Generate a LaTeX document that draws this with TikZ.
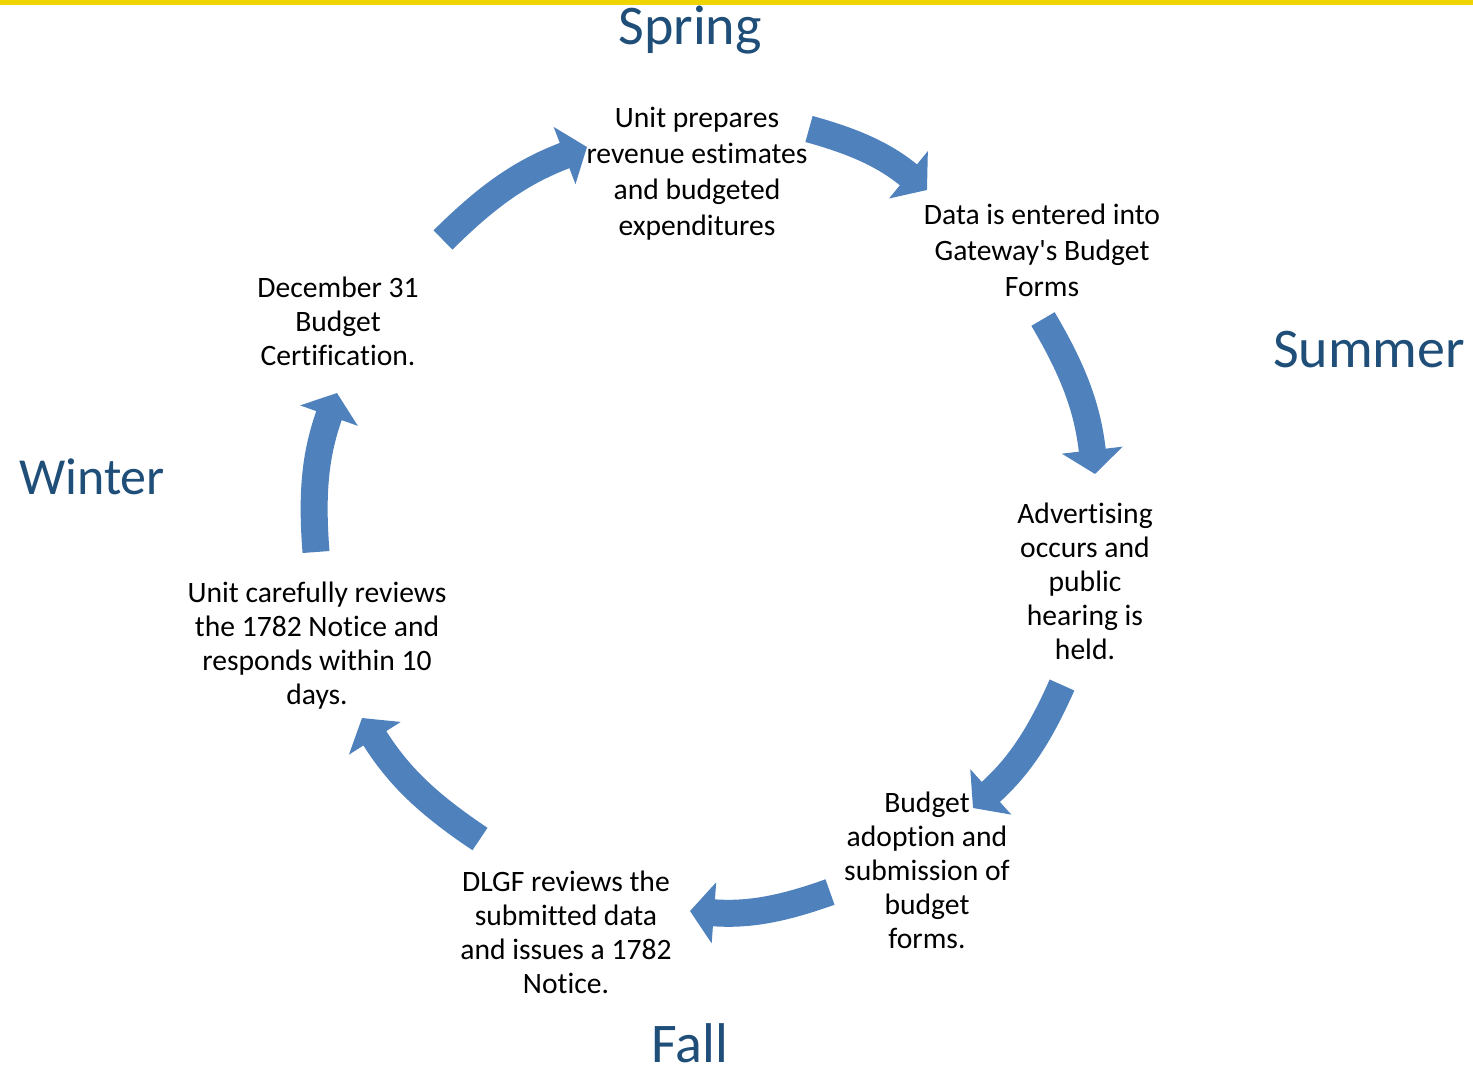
\documentclass[tikz,border=0pt]{standalone}
\usepackage{fontspec}
\setmainfont[Ligatures={NoCommon}]{Carlito}
\usetikzlibrary{arrows.meta}
\definecolor{cycleblue}{RGB}{79,129,189}
\definecolor{seasonblue}{RGB}{31,78,121}
\definecolor{topyellow}{RGB}{240,212,0}
\tikzset{
  stage/.style={align=center,inner sep=0pt,font=\fontsize{14.8}{17}\selectfont},
  season/.style={text=seasonblue,inner sep=0pt,font=\fontsize{28}{32}\selectfont},
  cycarrow/.style={draw=cycleblue,line width=13.5pt,-{Triangle[length=12pt,width=30pt]},bend left=12}
}

\begin{document}
\begin{tikzpicture}[x=0.5pt,y=-0.5pt]
        \useasboundingbox (0,0) rectangle (1473,1073);
        \fill[topyellow] (0,0) rectangle (1473,5);

        % seasons
        \node (spring) at (690,30) [season] {Spring};
        \node (summer) at (1369,350) [season] {Summer};
        \node (fall) at (690,1043) [season] {Fall};
        \node (winter) at (92,477) [season,font=\fontsize{26}{30}\selectfont] {Winter};

        % stages of the cycle
        \node (prep) at (697,174) [stage,font=\fontsize{14.8}{18}\selectfont] {Unit prepares\\revenue estimates\\and budgeted\\expenditures};
        \node (entry) at (1042,250) [stage,font=\fontsize{14.8}{18}\selectfont] {Data is entered into\\Gateway\textquotesingle s Budget\\Forms};
        \node (advert) at (1085,581) [stage] {Advertising\\occurs and\\public\\hearing is\\held.};
        \node (adopt) at (927,870) [stage] {Budget\\adoption and\\submission of\\budget\\forms.};
        \node (dlgf) at (566,932) [stage] {DLGF reviews the\\submitted data\\and issues a 1782\\Notice.};
        \node (review) at (317,646) [stage] {Unit carefully reviews\\the 1782 Notice and\\responds within 10\\days.};
        \node (cert) at (338,321) [stage] {December 31\\Budget\\Certification.};

        % arrow ends
        \coordinate (a1) at (443,240);  \coordinate (b1) at (587,147);
        \coordinate (a2) at (809,129);  \coordinate (b2) at (927,190);
        \coordinate (a3) at (1043,319); \coordinate (b3) at (1095,474);
        \coordinate (a4) at (1062,685); \coordinate (b4) at (973,808);
        \coordinate (a5) at (830,892);  \coordinate (b5) at (690,911);
        \coordinate (a6) at (480,839);  \coordinate (b6) at (362,718);
        \coordinate (a7) at (316,552);  \coordinate (b7) at (337,393);

        \foreach \i in {1,...,7}
          \draw[cycarrow] (a\i) to (b\i);
\end{tikzpicture}
\end{document}
